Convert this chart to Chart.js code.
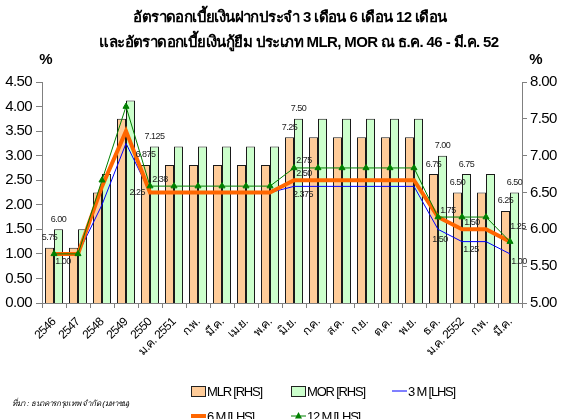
<!DOCTYPE html>
<html>
<head>
<meta charset="utf-8">
<script src="https://cdn.jsdelivr.net/npm/chart.js@4.4.1/dist/chart.umd.min.js"></script>
<style>
html,body{margin:0;padding:0;background:#fff;overflow:hidden}
</style>
</head>
<body>
<canvas id="rateChart" width="562" height="419"></canvas>
<script>

// data

const categories = ['2546','2547','2548','2549','2550','ม.ค. 2551','ก.พ.','มี.ค.','เม.ย.','พ.ค.','มิ.ย.','ก.ค.','ส.ค.','ก.ย.','ต.ค.','พ.ย.','ธ.ค.','ม.ค. 2552','ก.พ.','มี.ค.']

const mlr = [5.75,5.75,6.50,7.50,6.875,6.875,6.875,6.875,6.875,6.875,7.25,7.25,7.25,7.25,7.25,7.25,6.75,6.50,6.50,6.25]
const mor = [6.00,6.00,6.75,7.75,7.125,7.125,7.125,7.125,7.125,7.125,7.50,7.50,7.50,7.50,7.50,7.50,7.00,6.75,6.75,6.50]
const dep3m = [1.00,1.00,2.00,3.25,2.25,2.25,2.25,2.25,2.25,2.25,2.375,2.375,2.375,2.375,2.375,2.375,1.50,1.25,1.25,1.00]
const dep6m = [1.00,1.00,2.375,3.50,2.25,2.25,2.25,2.25,2.25,2.25,2.50,2.50,2.50,2.50,2.50,2.50,1.75,1.50,1.50,1.25]
const dep12m = [1.00,1.00,2.50,4.00,2.38,2.38,2.38,2.38,2.38,2.38,2.75,2.75,2.75,2.75,2.75,2.75,1.75,1.75,1.75,1.25]

const leftTicks = [0,0.5,1,1.5,2,2.5,3,3.5,4,4.5]
const rightTicks = [5,5.5,6,6.5,7,7.5,8]

const titleLines = ['อัตราดอกเบี้ยเงินฝากประจำ 3 เดือน 6 เดือน 12 เดือน','และอัตราดอกเบี้ยเงินกู้ยืม ประเภท MLR, MOR ณ ธ.ค. 46 - มี.ค. 52']
const sourceNote = 'ที่มา : ธนาคารกรุงเทพ จำกัด (มหาชน)'

// which points carry a value label
const barNotes = [0,4,10,16,17,19]
const lineNotes = [
[2,0,'se'],[3,4,'w'],[4,4,'ne'],
[4,10,'ne'],[3,10,'ne'],[2,10,'se'],
[4,16,'ne'],[2,16,'s'],
[3,17,'ne'],[2,17,'se'],
[4,19,'n'],[2,19,'se']
]


const narrow = '"Liberation Sans", Arial, sans-serif'
const fmt = v => (Math.round(v*1000)%10 ? v.toFixed(3) : v.toFixed(2))
const noteOffset = {ne:[10,-7], se:[9,8], w:[-5,0], s:[2,10], n:[8,-15]}


// tighter text everywhere, like the condensed original
const tight = {
id:'tight',
beforeUpdate(chart){ chart.ctx.letterSpacing = '-0.6px' },
beforeDraw(chart){ chart.ctx.letterSpacing = '-0.6px' }
}


// labels, title and legend drawn on the canvas

const extras = {
id:'extras',
afterDatasetsDraw(chart){
const ctx = chart.ctx
ctx.save()
ctx.font = '9px ' + narrow
ctx.letterSpacing = '-0.5px'
ctx.fillStyle = '#222'
ctx.textAlign = 'center'
ctx.textBaseline = 'middle'

// bar values
;[0,1].forEach(d=>{
const meta = chart.getDatasetMeta(d)
barNotes.forEach(i=>{
const el = meta.data[i]
ctx.fillText(fmt(chart.data.datasets[d].data[i]), el.x, el.y - 10)
})
})

// line values
lineNotes.forEach(([d,i,w])=>{
const el = chart.getDatasetMeta(d).data[i]
const off = noteOffset[w]
ctx.textAlign = w==='w' ? 'right' : 'center'
ctx.fillText(fmt(chart.data.datasets[d].data[i]), el.x + off[0], el.y + off[1])
})
ctx.restore()
},
afterDraw(chart){
const ctx = chart.ctx
const area = chart.chartArea
ctx.save()
ctx.fillStyle = '#000'
ctx.textAlign = 'center'
ctx.textBaseline = 'middle'
ctx.font = 'bold 15px ' + narrow
ctx.letterSpacing = '-0.6px'
ctx.fillText(titleLines[0], 290, 18)
ctx.fillText(titleLines[1], 299, 43)
ctx.letterSpacing = '0px'
ctx.fillText('%', area.left + 4, 60)
ctx.fillText('%', area.right + 14, 60)

// legend
const ds = chart.data.datasets
const slots = [[0,191,391],[1,291,391],[2,392,391],[3,191,416],[4,291,416]]
ctx.font = '13px ' + narrow
ctx.letterSpacing = '-1.2px'
ctx.textAlign = 'left'
slots.forEach(([d,x,y])=>{
const s = ds[d]
if(s.type==='line'){
ctx.strokeStyle = s.borderColor
ctx.lineWidth = s.borderWidth
ctx.beginPath()
ctx.moveTo(x,y)
ctx.lineTo(x+15,y)
ctx.stroke()
if(s.pointRadius){
ctx.fillStyle = s.pointBackgroundColor
ctx.beginPath()
ctx.moveTo(x+7.5,y-4)
ctx.lineTo(x+11,y+2.5)
ctx.lineTo(x+4,y+2.5)
ctx.closePath()
ctx.fill()
}
}else{
ctx.fillStyle = s.backgroundColor
ctx.fillRect(x+0.5,y-4.5,14,10)
ctx.strokeStyle = '#222'
ctx.lineWidth = 1
ctx.strokeRect(x+0.5,y-4.5,14,10)
}
ctx.fillStyle = '#000'
ctx.fillText(s.label, x+16, y+1)
})

ctx.font = 'italic 8px ' + narrow
ctx.letterSpacing = '-0.3px'
ctx.fillText(sourceNote, 12, 404)
ctx.restore()
}
}


const rateChart = new Chart(

document.getElementById('rateChart'),

{
type:'bar',

data:{
labels:categories,
datasets:[
{label:'MLR [RHS]', data:mlr, yAxisID:'y1', backgroundColor:'#FFCC99', borderColor:'#1a1a1a', borderWidth:1, order:4},
{label:'MOR [RHS]', data:mor, yAxisID:'y1', backgroundColor:'#CCFFCC', borderColor:'#1a1a1a', borderWidth:1, order:4},
{type:'line', label:'3 M [LHS]', data:dep3m, yAxisID:'y', borderColor:'#0000FF', borderWidth:1, pointRadius:0, order:2},
{type:'line', label:'6 M [LHS]', data:dep6m, yAxisID:'y', borderColor:'#FF6600', borderWidth:4, pointRadius:0, order:1},
{type:'line', label:'12 M [LHS]', data:dep12m, yAxisID:'y', borderColor:'#008000', borderWidth:1, pointStyle:'triangle', pointRadius:3.5, pointBackgroundColor:'#008000', pointBorderColor:'#008000', order:0}
]
},

options:{
responsive:false,
animation:false,
layout:{padding:{top:82, bottom:56, left:0, right:0}},
categoryPercentage:0.75,
barPercentage:1,
plugins:{legend:{display:false}, tooltip:{enabled:false}},
scales:{
x:{
grid:{drawOnChartArea:false, tickLength:5, color:'#808080'},
border:{color:'#808080'},
ticks:{autoSkip:false, minRotation:45, maxRotation:45, color:'#000', padding:7, font:{family:narrow, size:12}},
afterFit(s){ s.height = 60 }
},
y:{
position:'left', min:0, max:4.5,
afterBuildTicks(s){ s.ticks = leftTicks.map(v=>({value:v})) },
grid:{drawOnChartArea:false, tickLength:6, color:'#808080'},
border:{color:'#808080'},
ticks:{color:'#000', padding:4, font:{family:narrow, size:15}, callback:v=>v.toFixed(2)},
afterFit(s){ s.width = 42 }
},
y1:{
position:'right', min:5, max:8,
afterBuildTicks(s){ s.ticks = rightTicks.map(v=>({value:v})) },
grid:{drawOnChartArea:false, tickLength:5, color:'#808080'},
border:{color:'#808080'},
ticks:{color:'#000', padding:3, font:{family:narrow, size:15}, callback:v=>v.toFixed(2)},
afterFit(s){ s.width = 40 }
}
}
},

plugins:[tight, extras]

}
)
</script>
</body>
</html>
